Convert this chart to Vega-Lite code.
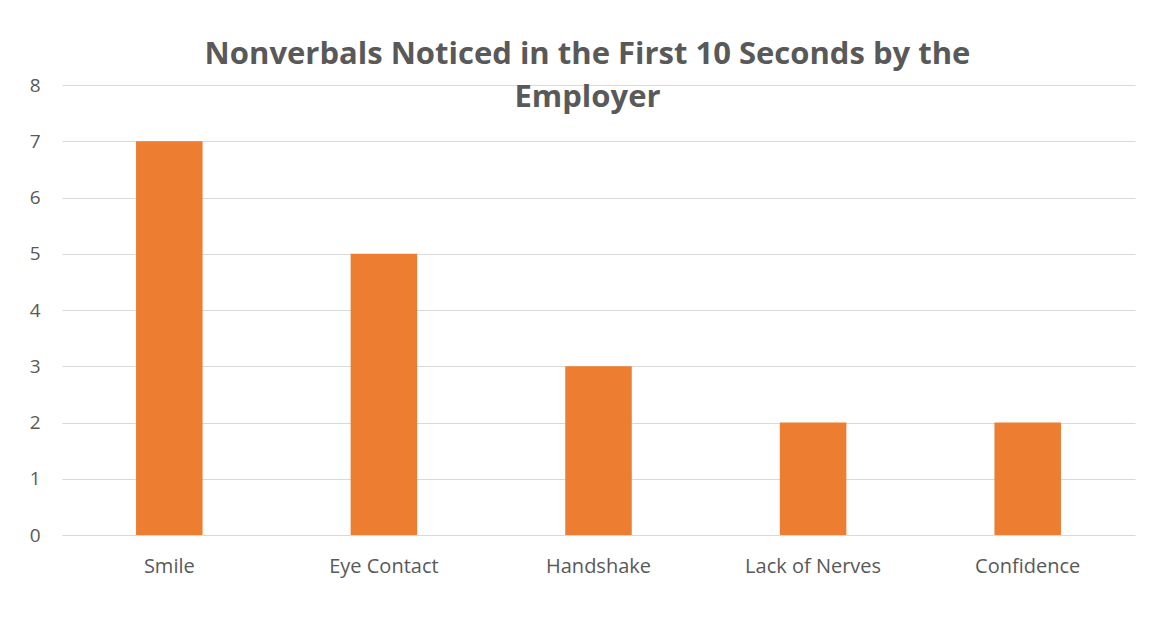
{
  "$schema": "https://vega.github.io/schema/vega-lite/v6.json",
  "autosize": {"type": "none"},
  "width": 1073,
  "height": 450,
  "padding": {"left": 62, "top": 85, "right": 15, "bottom": 84},
  "background": "white",
  "title": {
    "text": ["Nonverbals Noticed in the First 10 Seconds by the", "Employer"],
    "anchor": "middle",
    "frame": "group",
    "baseline": "bottom",
    "offset": -69,
    "dx": -11,
    "lineHeight": 43,
    "font": "Open Sans",
    "fontSize": 31,
    "fontWeight": "bold",
    "color": "#595959"
  },
  "data": {
    "values": [
      {"category": "Smile", "count": 7},
      {"category": "Eye Contact", "count": 5},
      {"category": "Handshake", "count": 3},
      {"category": "Lack of Nerves", "count": 2},
      {"category": "Confidence", "count": 2}
    ]
  },
  "mark": {"type": "bar", "color": "#ED7D31"},
  "encoding": {
    "x": {
      "field": "category",
      "type": "nominal",
      "sort": null,
      "scale": {"paddingInner": 0.69, "paddingOuter": 0.345},
      "axis": {
        "title": null,
        "labelAngle": 0,
        "domain": false,
        "ticks": false,
        "labelPadding": 21,
        "labelFont": "Open Sans",
        "labelFontSize": 20,
        "labelColor": "#595959"
      }
    },
    "y": {
      "field": "count",
      "type": "quantitative",
      "scale": {"domain": [0, 8]},
      "axis": {
        "title": null,
        "values": [0, 1, 2, 3, 4, 5, 6, 7, 8],
        "domain": false,
        "ticks": false,
        "labelPadding": 22,
        "labelFont": "Open Sans",
        "labelFontSize": 19,
        "labelColor": "#595959",
        "gridColor": "#d9d9d9",
        "gridWidth": 1.2
      }
    }
  },
  "config": {"view": {"stroke": null}}
}
